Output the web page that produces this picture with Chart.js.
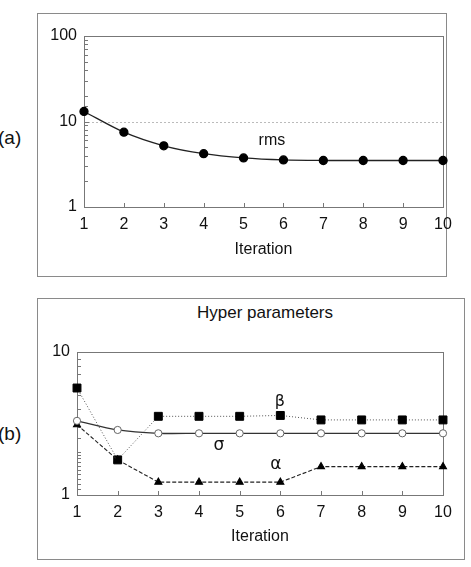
<!DOCTYPE html>
<html>
<head>
<meta charset="utf-8">
<script src="https://cdn.jsdelivr.net/npm/chart.js@4.4.1/dist/chart.umd.min.js"></script>
<style>
  body { margin: 0; background: #fff; width: 471px; height: 567px; position: relative; overflow: hidden;
         font-family: "Liberation Sans", Arial, sans-serif; color: #111; }
  .box { position: absolute; border: 1px solid #8a8a8a; box-sizing: border-box; }
  #boxA { left: 37px; top: 13px; width: 410px; height: 264px; }
  #boxB { left: 37px; top: 298px; width: 428px; height: 262px; }
  .wrap { position: absolute; left: 0; width: 471px; }
  .lbl { position: absolute; font-size: 17px; line-height: 20px; }
</style>
</head>
<body>
<div class="box" id="boxA"></div>
<div class="box" id="boxB"></div>
<div class="lbl" style="left:-2px;top:128px;font-size:19px">(a)</div>
<div class="lbl" style="left:-2px;top:424px;font-size:19px">(b)</div>
<div class="lbl" style="left:165px;top:303px;width:200px;text-align:center">Hyper parameters</div>
<div class="wrap" style="top:0;height:280px"><canvas id="chartA"></canvas></div>
<div class="wrap" style="top:280px;height:287px"><canvas id="chartB"></canvas></div>

<script>
// iterations on the x axis
const iterations = ['1', '2', '3', '4', '5', '6', '7', '8', '9', '10'];

// panel (a): rms error per iteration
const rms = [13.1, 7.5, 5.2, 4.2, 3.75, 3.55, 3.5, 3.5, 3.5, 3.5];

// panel (b): hyper parameters per iteration
const beta  = [5.6, 1.76, 3.55, 3.55, 3.55, 3.6, 3.35, 3.35, 3.35, 3.35];
const sigma = [3.3, 2.85, 2.7, 2.7, 2.7, 2.7, 2.7, 2.7, 2.7, 2.7];
const alpha = [3.1, 1.76, 1.23, 1.23, 1.23, 1.23, 1.58, 1.58, 1.58, 1.58];

// y axis ranges (log)
const rangeA = [1, 100];
const rangeB = [1, 10];

const FONT = '"Liberation Sans", Arial, sans-serif';
const INK = '#111';

const isDecade = (v) => Math.abs(Math.log10(v) - Math.round(Math.log10(v))) < 1e-9;

// plot frame, inside tick marks and curve labels
const framePlugin = {
  id: 'frame',
  beforeDatasetsDraw(chart, args, opts) {
    const { ctx, chartArea: a, scales: { x, y } } = chart;
    ctx.save();
    if (opts.gridAt) {
      const gy = Math.round(y.getPixelForValue(opts.gridAt)) + 0.5;
      ctx.strokeStyle = '#bbb';
      ctx.setLineDash([2, 2]);
      ctx.beginPath(); ctx.moveTo(a.left, gy); ctx.lineTo(a.right, gy); ctx.stroke();
      ctx.setLineDash([]);
    }
    ctx.strokeStyle = '#777';
    ctx.lineWidth = 1;
    ctx.strokeRect(Math.round(a.left) + 0.5, Math.round(a.top) + 0.5,
                   Math.round(a.width), Math.round(a.height));
    ctx.beginPath();
    y.ticks.forEach((t) => {
      const py = Math.round(y.getPixelForValue(t.value)) + 0.5;
      const len = isDecade(t.value) ? 5 : 4;
      ctx.moveTo(a.left, py); ctx.lineTo(a.left + len, py);
    });
    x.ticks.forEach((t, i) => {
      const px = Math.round(x.getPixelForTick(i)) + 0.5;
      ctx.moveTo(px, a.bottom); ctx.lineTo(px, a.bottom - 4);
    });
    ctx.stroke();
    ctx.restore();
  },
  afterDatasetsDraw(chart, args, opts) {
    const { ctx, scales: { x, y } } = chart;
    ctx.save();
    ctx.fillStyle = INK;
    ctx.textAlign = 'center';
    ctx.textBaseline = 'middle';
    (opts.notes || []).forEach((n) => {
      ctx.font = `${n.size || 17}px ${n.font || FONT}`;
      ctx.fillText(n.text, x.getPixelForValue(n.at), y.getPixelForValue(n.value));
    });
    ctx.restore();
  },
};

function axes(range, yWidth, xHeight) {
  return {
    x: {
      grid: { display: false, drawTicks: false },
      border: { display: false },
      ticks: { color: INK, font: { family: FONT, size: 16 }, padding: 8, maxRotation: 0, autoSkip: false },
      title: { display: true, text: 'Iteration', color: INK, font: { family: FONT, size: 16 }, padding: 0 },
      afterFit: (s) => { s.height = xHeight; },
    },
    y: {
      type: 'logarithmic',
      min: range[0],
      max: range[1],
      grid: { display: false, drawTicks: false },
      border: { display: false },
      ticks: {
        color: INK, font: { family: FONT, size: 16 }, padding: 7, autoSkip: false,
        callback: (v) => (isDecade(v) ? String(Math.round(v)) : ''),
      },
      afterFit: (s) => { s.width = yWidth; },
    },
  };
}

new Chart(document.getElementById('chartA'), {
  type: 'line',
  data: {
    labels: iterations,
    datasets: [{
      label: 'rms',
      data: rms,
      borderColor: '#222',
      borderWidth: 1.3,
      pointStyle: 'circle',
      pointRadius: 4,
      pointBackgroundColor: '#000',
      pointBorderColor: '#000',
      tension: 0.3,
      clip: false,
    }],
  },
  options: {
    responsive: true,
    maintainAspectRatio: false,
    animation: false,
    layout: { padding: { left: 44, right: 28, top: 36, bottom: 21 } },
    plugins: {
      legend: { display: false },
      tooltip: { enabled: false },
      frame: { gridAt: 10, notes: [{ text: 'rms', at: 4.71, value: 6.0, size: 16 }] },
    },
    scales: axes(rangeA, 40, 52),
  },
  plugins: [framePlugin],
});

new Chart(document.getElementById('chartB'), {
  type: 'line',
  data: {
    labels: iterations,
    datasets: [
      {
        label: 'sigma',
        data: sigma,
        borderColor: '#333',
        borderWidth: 1.3,
        pointStyle: 'circle',
        pointRadius: 3.6,
        pointBackgroundColor: '#fff',
        pointBorderColor: '#666',
        pointBorderWidth: 1,
        tension: 0.3,
        clip: false,
      },
      {
        label: 'alpha',
        data: alpha,
        borderColor: '#222',
        borderWidth: 1.1,
        borderDash: [4, 2],
        pointStyle: 'triangle',
        pointRadius: 4,
        pointBackgroundColor: '#000',
        pointBorderColor: '#000',
        tension: 0,
        clip: false,
      },
      {
        label: 'beta',
        data: beta,
        borderColor: '#555',
        borderWidth: 1,
        borderDash: [1, 2],
        pointStyle: 'rect',
        pointRadius: 5.6,
        pointBackgroundColor: '#000',
        pointBorderColor: '#000',
        tension: 0,
        clip: false,
      },
    ],
  },
  options: {
    responsive: true,
    maintainAspectRatio: false,
    animation: false,
    layout: { padding: { left: 37, right: 28, top: 72, bottom: 21 } },
    plugins: {
      legend: { display: false },
      tooltip: { enabled: false },
      frame: {
        notes: [
          { text: 'β', at: 4.99, value: 4.47, font: '"DejaVu Sans", sans-serif', size: 16 },
          { text: 'σ', at: 3.49, value: 2.2, font: '"DejaVu Sans", sans-serif', size: 17 },
          { text: 'α', at: 4.89, value: 1.62, font: '"DejaVu Sans", sans-serif', size: 17 },
        ],
      },
    },
    scales: axes(rangeB, 40, 51),
  },
  plugins: [framePlugin],
});
</script>
</body>
</html>
